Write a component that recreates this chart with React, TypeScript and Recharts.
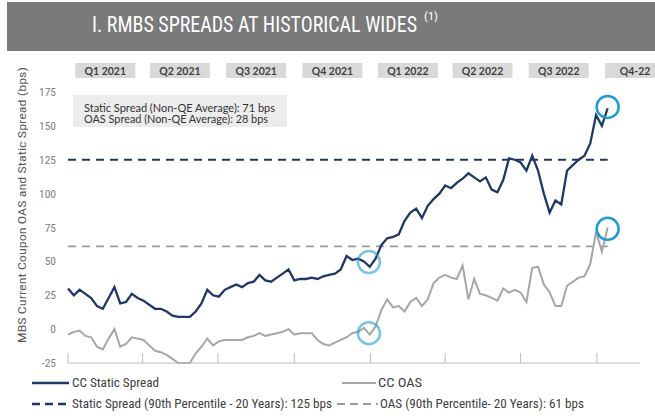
import React from "react";
import { LineChart, Line, XAxis, YAxis, ReferenceLine, ReferenceDot } from "recharts";

document.body.style.margin = "0";

// weekly readings (bps), week 0 = first week of Jan 2021
const staticSpread = [
  30, 25, 29, 26, 23, 17, 15, 23, 31, 19, 20, 26, 23, 21, 18, 15, 15, 13, 10, 9,
  9, 9, 13, 19, 29, 25, 24, 29, 31, 33, 31, 34, 35, 40, 36, 35, 38, 41, 44, 36,
  37, 37, 38, 37, 39, 40, 41, 44, 54, 51, 52, 50, 46, 52, 62, 67, 68, 70, 80, 86,
  89, 82, 91, 96, 100, 106, 104, 108, 111, 115, 112, 109, 112, 103, 101, 110, 126, 125, 123, 117,
  128, 117, 100, 86, 95, 92, 117, 121, 125, 128, 137, 158, 150, 163,
];
const oasSpread = [
  -4, -2, -1, -5, -6, -13, -15, -7, 0, -13, -11, -6, -7, -8, -12, -16, -17, -19, -22, -25,
  -25, -25, -18, -13, -7, -12, -9, -8, -8, -8, -8, -6, -5, -3, -5, -4, -3, -2, 0, -4,
  -3, -3, -3, -8, -11, -12, -10, -8, -6, -3, -2, 1, -4, 2, 14, 22, 16, 17, 13, 20,
  23, 17, 22, 34, 38, 40, 38, 37, 47, 22, 37, 26, 25, 23, 21, 30, 27, 29, 27, 20,
  45, 46, 33, 27, 17, 17, 32, 35, 38, 39, 48, 72, 57, 75,
];

// days since 1 Jan 2021
const quarterStarts = [0, 90, 181, 273, 365, 455, 546, 638];
const quarterMids = [45, 135, 227, 319, 410, 500, 592, 684];
const quarterLabels = ["Q1 2021", "Q2 2021", "Q3 2021", "Q4 2021", "Q1 2022", "Q2 2022", "Q3 2022", "Q4-22"];
const yTicks = [-25, 0, 25, 50, 75, 100, 125, 150, 175];

const staticP90 = 125;
const oasP90 = 61;
const circled = [
  { day: 363, value: 49.5, faint: true },
  { day: 363, value: -3, faint: true },
  { day: 651, value: 164, faint: false },
  { day: 651, value: 74, faint: false },
];

const data = staticSpread.map((s, i) => ({ day: i * 7, cc: s, oas: oasSpread[i] }));
const lastDay = data[data.length - 1].day;

const NAVY = "#1f3864";
const GREY = "#a6a6a6";
const RING = "#1e9bd7";
const NARROW = "'Liberation Sans Narrow', 'Roboto Condensed', 'DejaVu Sans Condensed', Roboto, sans-serif";
const CAL = "Lato, 'Open Sans', sans-serif";

const QuarterTick = (props: any) => {
  const { x, payload } = props;
  const label = quarterLabels[quarterMids.indexOf(payload.value)];
  return (
    <g>
      <rect x={x - 30} y={63} width={60} height={15} fill="#d9d9d9" />
      <text x={x} y={74.5} textAnchor="middle" fontSize={10.5} fontWeight={700} fill="#404040" fontFamily={CAL}>
        {label}
      </text>
    </g>
  );
};

const NoLabel = () => <g />;

export default function App() {
  return (
    <div style={{ position: "relative", width: 655, height: 418, background: "#fff", overflow: "hidden" }}>
      <div style={{ position: "absolute", left: 7, top: 2, width: 648, height: 49, background: "#7a7a7a" }} />
      <div style={{ position: "absolute", left: 0, top: 0 }}>
        <LineChart width={655} height={418} data={data} margin={{ top: 62, right: 15, bottom: 54, left: 8 }}>
          <XAxis
            xAxisId="q"
            orientation="top"
            dataKey="day"
            type="number"
            domain={[0, 690]}
            ticks={quarterMids}
            interval={0}
            height={30}
            axisLine={false}
            tickLine={false}
            tick={<QuarterTick />}
          />
          <XAxis
            xAxisId="b"
            dataKey="day"
            type="number"
            domain={[0, 690]}
            ticks={quarterStarts}
            interval={0}
            height={1}
            tickSize={-10}
            tick={<NoLabel />}
            stroke="#bcbcbc"
          />
          <YAxis
            domain={[-25, 175]}
            ticks={yTicks}
            interval={0}
            width={60}
            axisLine={false}
            tickLine={false}
            tickMargin={6}
            tick={{ fill: "#808080", fontSize: 11.5, fontFamily: NARROW }}
          />
          <ReferenceLine
            xAxisId="b"
            segment={[{ x: 0, y: staticP90 }, { x: lastDay, y: staticP90 }]}
            stroke={NAVY}
            strokeWidth={2}
            strokeDasharray="8 6"
          />
          <ReferenceLine
            xAxisId="b"
            segment={[{ x: 0, y: oasP90 }, { x: lastDay, y: oasP90 }]}
            stroke="#9c9c9c"
            strokeWidth={1.8}
            strokeDasharray="8 6"
          />
          <Line xAxisId="b" type="linear" dataKey="oas" stroke={GREY} strokeWidth={2} dot={false} isAnimationActive={false} />
          <Line xAxisId="b" type="linear" dataKey="cc" stroke={NAVY} strokeWidth={2.3} dot={false} isAnimationActive={false} />
          {circled.map((c, i) => (
            <ReferenceDot
              key={i}
              xAxisId="b"
              x={c.day}
              y={c.value}
              r={11}
              fill="none"
              stroke={RING}
              strokeWidth={2.5}
              strokeOpacity={c.faint ? 0.6 : 1}
            />
          ))}
        </LineChart>
      </div>
      <svg width={655} height={418} style={{ position: "absolute", left: 0, top: 0, pointerEvents: "none" }}>
        <text
          transform="translate(92 31.5) scale(1 1.15)"
          fontSize={19.8}
          fill="#fff"
          fontFamily={NARROW}
          textLength={325}
          lengthAdjust="spacingAndGlyphs"
        >
          I. RMBS SPREADS AT HISTORICAL WIDES
        </text>
        <text x={424} y={20} fontSize={10.5} fill="#fff" fontFamily={NARROW} textLength={14} lengthAdjust="spacingAndGlyphs">
          (1)
        </text>

        <rect x={73} y={95} width={214} height={32} fill="#ececec" />
        <text x={84} y={112} fontSize={10.5} fill="#333" fontFamily={CAL} textLength={191} lengthAdjust="spacingAndGlyphs">
          Static Spread (Non-QE Average): 71 bps
        </text>
        <text x={84} y={122.5} fontSize={10.5} fill="#333" fontFamily={CAL} textLength={184} lengthAdjust="spacingAndGlyphs">
          OAS Spread (Non-QE Average): 28 bps
        </text>

        <text
          transform="translate(25.5 205) rotate(-90)"
          textAnchor="middle"
          fontSize={11.5}
          fill="#595959"
          fontFamily={NARROW}
          textLength={276}
          lengthAdjust="spacingAndGlyphs"
        >
          MBS Current Coupon OAS and Static Spread (bps)
        </text>

        <line x1={32} y1={383} x2={69} y2={383} stroke={NAVY} strokeWidth={2.5} />
        <text x={72} y={387} fontSize={12} fill="#404040" fontFamily={NARROW} textLength={87} lengthAdjust="spacingAndGlyphs">
          CC Static Spread
        </text>
        <line x1={342} y1={383} x2={376} y2={383} stroke={GREY} strokeWidth={2} />
        <text x={378} y={387} fontSize={12} fill="#404040" fontFamily={NARROW} textLength={44} lengthAdjust="spacingAndGlyphs">
          CC OAS
        </text>
        <line x1={32} y1={404} x2={70} y2={404} stroke={NAVY} strokeWidth={2.5} strokeDasharray="8 5" />
        <text x={72} y={408} fontSize={12} fill="#404040" fontFamily={NARROW} textLength={260} lengthAdjust="spacingAndGlyphs">
          Static Spread (90th Percentile - 20 Years): 125 bps
        </text>
        <line x1={337} y1={404} x2={378} y2={404} stroke="#9c9c9c" strokeWidth={1.8} strokeDasharray="8 5" />
        <text x={380} y={408} fontSize={12} fill="#404040" fontFamily={NARROW} textLength={204} lengthAdjust="spacingAndGlyphs">
          OAS (90th Percentile- 20 Years): 61 bps
        </text>
      </svg>
    </div>
  );
}
